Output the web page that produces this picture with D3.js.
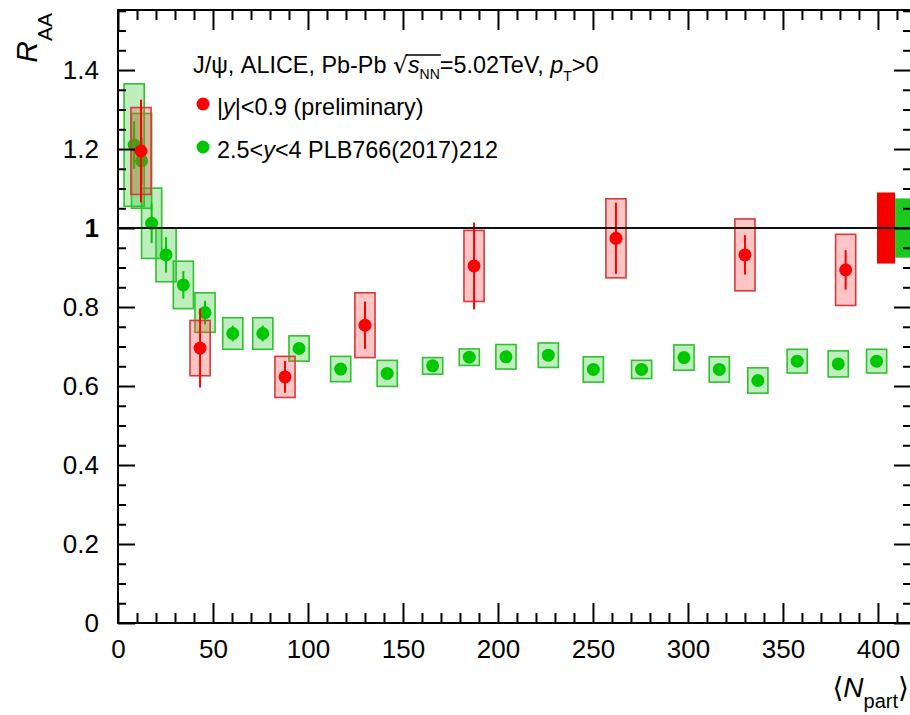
<!DOCTYPE html>
<html>
<head>
<meta charset="utf-8">
<script src="https://cdn.jsdelivr.net/npm/d3@7"></script>
<style>
  body { margin: 0; background: #fff; }
  svg { display: block; }
  text { font-family: "Liberation Sans", Arial, Helvetica, sans-serif; fill: #000; white-space: pre; }
</style>
</head>
<body>
<svg id="chart" width="910" height="715"></svg>
<script>
// J/psi R_AA vs <Npart>, Pb-Pb 5.02 TeV

// Mid-rapidity |y|<0.9 (preliminary)
const redNpart = [12.1, 43.2, 87.9, 130.0, 187.4, 262.1, 330.0, 383.0];
const redRaa   = [1.195, 0.696, 0.623, 0.754, 0.904, 0.974, 0.932, 0.894];
const redStat  = [0.13, 0.10, 0.04, 0.06, 0.11, 0.09, 0.05, 0.05];
const redSyst  = [0.11, 0.07, 0.052, 0.082, 0.09, 0.10, 0.091, 0.09];

// Forward rapidity 2.5<y<4, PLB766(2017)212
const greenNpart = [8.5, 12.4, 17.7, 25.3, 34.4, 45.8, 60.4, 76.2, 95.3, 117.2, 141.7, 165.6,
                    184.9, 204.2, 226.5, 250.2, 275.6, 297.9, 316.5, 336.8, 357.5, 379.1, 399.3];
const greenRaa   = [1.21, 1.17, 1.012, 0.932, 0.856, 0.786, 0.733, 0.733, 0.695, 0.643, 0.632, 0.651,
                    0.673, 0.674, 0.678, 0.642, 0.642, 0.672, 0.642, 0.614, 0.663, 0.656, 0.663];
const greenStat  = [0.06, 0.06, 0.05, 0.045, 0.035, 0.03, 0.02, 0.02, 0.015, 0.012, 0.012, 0.01,
                    0.01, 0.01, 0.01, 0.01, 0.01, 0.01, 0.01, 0.01, 0.01, 0.01, 0.01];
const greenSyst  = [0.155, 0.12, 0.089, 0.068, 0.06, 0.05, 0.04, 0.04, 0.032, 0.032, 0.033, 0.021,
                    0.021, 0.031, 0.031, 0.032, 0.023, 0.032, 0.032, 0.032, 0.03, 0.033, 0.03];

// Global (correlated) uncertainties drawn at R_AA = 1
const globalLabels = ["red", "green"];
const globalUnc    = [0.09, 0.075];

// Axis ticks
const xMajorTicks = [0, 50, 100, 150, 200, 250, 300, 350, 400];
const yMajorTicks = [0, 0.2, 0.4, 0.6, 0.8, 1.0, 1.2, 1.4];

const RED = "#ff0000", RED_EDGE = "#d83a3a", RED_FILL = "rgba(255,60,60,0.30)";
const GREEN = "#00c800", GREEN_EDGE = "#30c030", GREEN_FILL = "rgba(40,200,40,0.30)";
const BOX_HALF = 5.3;          // half width of systematic boxes, in Npart units

const svg = d3.select("#chart");
const pL = 118, pR = 911, pT = 10, pB = 623;

const x = d3.scaleLinear().domain([0, 417.4]).range([pL, pR]);
const y = d3.scaleLinear().domain([0, 1.552]).range([pB, pT]);

svg.append("defs").append("clipPath").attr("id", "plotClip")
  .append("rect").attr("x", pL).attr("y", pT)
  .attr("width", pR - pL).attr("height", pB - pT);

const plot = svg.append("g").attr("clip-path", "url(#plotClip)");

function series(nx, ny, stat, syst, color, edge, fill) {
  const d = nx.map((v, i) => ({ x: v, y: ny[i], stat: stat[i], syst: syst[i] }));
  const g = plot.append("g");
  g.selectAll("rect").data(d).join("rect")
    .attr("x", p => x(p.x - BOX_HALF))
    .attr("width", p => x(p.x + BOX_HALF) - x(p.x - BOX_HALF))
    .attr("y", p => y(p.y + p.syst))
    .attr("height", p => y(p.y - p.syst) - y(p.y + p.syst))
    .attr("fill", fill).attr("stroke", edge).attr("stroke-width", 1.6);
  return { g, d, color };
}

function markers(s) {
  s.g.selectAll("line").data(s.d).join("line")
    .attr("x1", p => x(p.x)).attr("x2", p => x(p.x))
    .attr("y1", p => y(p.y + p.stat)).attr("y2", p => y(p.y - p.stat))
    .attr("stroke", s.color).attr("stroke-width", 2);
  s.g.selectAll("circle").data(s.d).join("circle")
    .attr("cx", p => x(p.x)).attr("cy", p => y(p.y)).attr("r", 6.5)
    .attr("fill", s.color);
}

const green = series(greenNpart, greenRaa, greenStat, greenSyst, GREEN, GREEN_EDGE, GREEN_FILL);
const red = series(redNpart, redRaa, redStat, redSyst, RED, RED_EDGE, RED_FILL);

// global uncertainty boxes
const globalX = { red: [399.5, 409], green: [409, 420] };
const globalColor = { red: "#f50000", green: "#1ec81e" };
plot.append("g").selectAll("rect").data(globalLabels.map((k, i) => ({ k, u: globalUnc[i] })))
  .join("rect")
  .attr("x", d => x(globalX[d.k][0]))
  .attr("width", d => x(globalX[d.k][1]) - x(globalX[d.k][0]))
  .attr("y", d => y(1 + d.u))
  .attr("height", d => y(1 - d.u) - y(1 + d.u))
  .attr("fill", d => globalColor[d.k]);

// unity line
plot.append("line")
  .attr("x1", x(0)).attr("x2", pR)
  .attr("y1", y(1)).attr("y2", y(1))
  .attr("stroke", "#111").attr("stroke-width", 2);

markers(green);
markers(red);

// axes
const xMinor = d3.range(0, 420, 10).filter(v => v % 50 !== 0);
const yMinor = d3.range(0, 1.551, 0.05).map(v => +v.toFixed(2)).filter(v => Math.round(v * 100) % 20 !== 0);

function styleAxis(g) {
  g.select(".domain").remove();
  g.selectAll(".tick line").attr("stroke", "#000").attr("stroke-width", 2);
  g.selectAll("text").style("font-family", '"Liberation Sans", Arial, sans-serif').attr("fill", "#000");
}

// bottom
svg.append("g").attr("transform", `translate(0,${pB})`)
  .call(d3.axisBottom(x).tickValues(xMajorTicks).tickSize(-20).tickPadding(17).tickFormat(d3.format("d")))
  .call(styleAxis)
  .call(g => g.selectAll("text").attr("font-size", 26));
svg.append("g").attr("transform", `translate(0,${pB})`)
  .call(d3.axisBottom(x).tickValues(xMinor).tickSize(-10).tickFormat(""))
  .call(styleAxis);
// top
svg.append("g").attr("transform", `translate(0,${pT})`)
  .call(d3.axisTop(x).tickValues(xMajorTicks).tickSize(-20).tickFormat(""))
  .call(styleAxis);
svg.append("g").attr("transform", `translate(0,${pT})`)
  .call(d3.axisTop(x).tickValues(xMinor).tickSize(-10).tickFormat(""))
  .call(styleAxis);
// left
svg.append("g").attr("transform", `translate(${pL},0)`)
  .call(d3.axisLeft(y).tickValues(yMajorTicks).tickSize(-17).tickPadding(19).tickFormat(d3.format("~g")))
  .call(styleAxis)
  .call(g => g.selectAll("text").attr("font-size", 26)
    .attr("font-weight", d => d === 1 ? "bold" : null));
svg.append("g").attr("transform", `translate(${pL},0)`)
  .call(d3.axisLeft(y).tickValues(yMinor).tickSize(-8).tickFormat(""))
  .call(styleAxis);
// right
svg.append("g").attr("transform", `translate(${pR},0)`)
  .call(d3.axisRight(y).tickValues(yMajorTicks).tickSize(-17).tickFormat(""))
  .call(styleAxis);
svg.append("g").attr("transform", `translate(${pR},0)`)
  .call(d3.axisRight(y).tickValues(yMinor).tickSize(-8).tickFormat(""))
  .call(styleAxis);

// frame
svg.append("rect").attr("x", pL).attr("y", pT)
  .attr("width", pR - pL).attr("height", pB - pT)
  .attr("fill", "none").attr("stroke", "#000").attr("stroke-width", 2);

// sequential rich text pieces; returns list of [x0, x1] per piece
function richText(x0, y0, parts) {
  let cx = x0;
  const spans = [];
  parts.forEach(p => {
    const t = svg.append("text")
      .attr("x", cx).attr("y", y0 + (p.dy || 0))
      .attr("font-size", p.size)
      .attr("font-style", p.italic ? "italic" : null)
      .style("font-family", p.font || null)
      .style("white-space", "pre")
      .text(p.t);
    const w = t.node().getComputedTextLength();
    spans.push([cx, cx + w]);
    cx += w + (p.gap || 0);
  });
  return spans;
}

// header line
const hs = 23.4;
const hdr = richText(193, 73, [
  { t: "J/\u03c8, ALICE, Pb-Pb ", size: hs },
  { t: "\u221a", size: hs, font: '"DejaVu Sans", sans-serif' },
  { t: "s", size: hs, italic: true },
  { t: "NN", size: 14, dy: 6 },
  { t: "=5.02TeV, ", size: hs },
  { t: "p", size: hs, italic: true },
  { t: "T", size: 14, dy: 8 },
  { t: ">0", size: hs }
]);
// radical bar over s_NN
svg.append("line")
  .attr("x1", hdr[1][1] - 2).attr("x2", hdr[3][1] + 1)
  .attr("y1", 55).attr("y2", 55)
  .attr("stroke", "#000").attr("stroke-width", 1.5);

// legend
svg.append("circle").attr("cx", 203).attr("cy", 104).attr("r", 6.5).attr("fill", RED);
richText(217, 115, [
  { t: "|", size: hs },
  { t: "y", size: hs, italic: true },
  { t: "|<0.9 (preliminary)", size: hs }
]);
svg.append("circle").attr("cx", 203).attr("cy", 147).attr("r", 6.5).attr("fill", GREEN);
richText(217, 158, [
  { t: "2.5<", size: hs },
  { t: "y", size: hs, italic: true },
  { t: "<4 PLB766(2017)212", size: hs }
]);

// y title (rotated)
const yt = svg.append("text")
  .attr("transform", "translate(37,13) rotate(-90)")
  .attr("text-anchor", "end");
yt.append("tspan").attr("font-size", 30).attr("font-style", "italic").text("R");
yt.append("tspan").attr("font-size", 21).attr("dy", 15).text("AA");

// x title
const xt = svg.append("text").attr("x", 909).attr("y", 697).attr("text-anchor", "end");
xt.append("tspan").attr("font-size", 28).style("font-family", '"DejaVu Sans", sans-serif').text("\u27e8");
xt.append("tspan").attr("font-size", 28).attr("font-style", "italic").text("N");
xt.append("tspan").attr("font-size", 20).attr("dy", 11).text("part");
xt.append("tspan").attr("font-size", 28).attr("dy", -11).style("font-family", '"DejaVu Sans", sans-serif').text("\u27e9");
</script>
</body>
</html>
